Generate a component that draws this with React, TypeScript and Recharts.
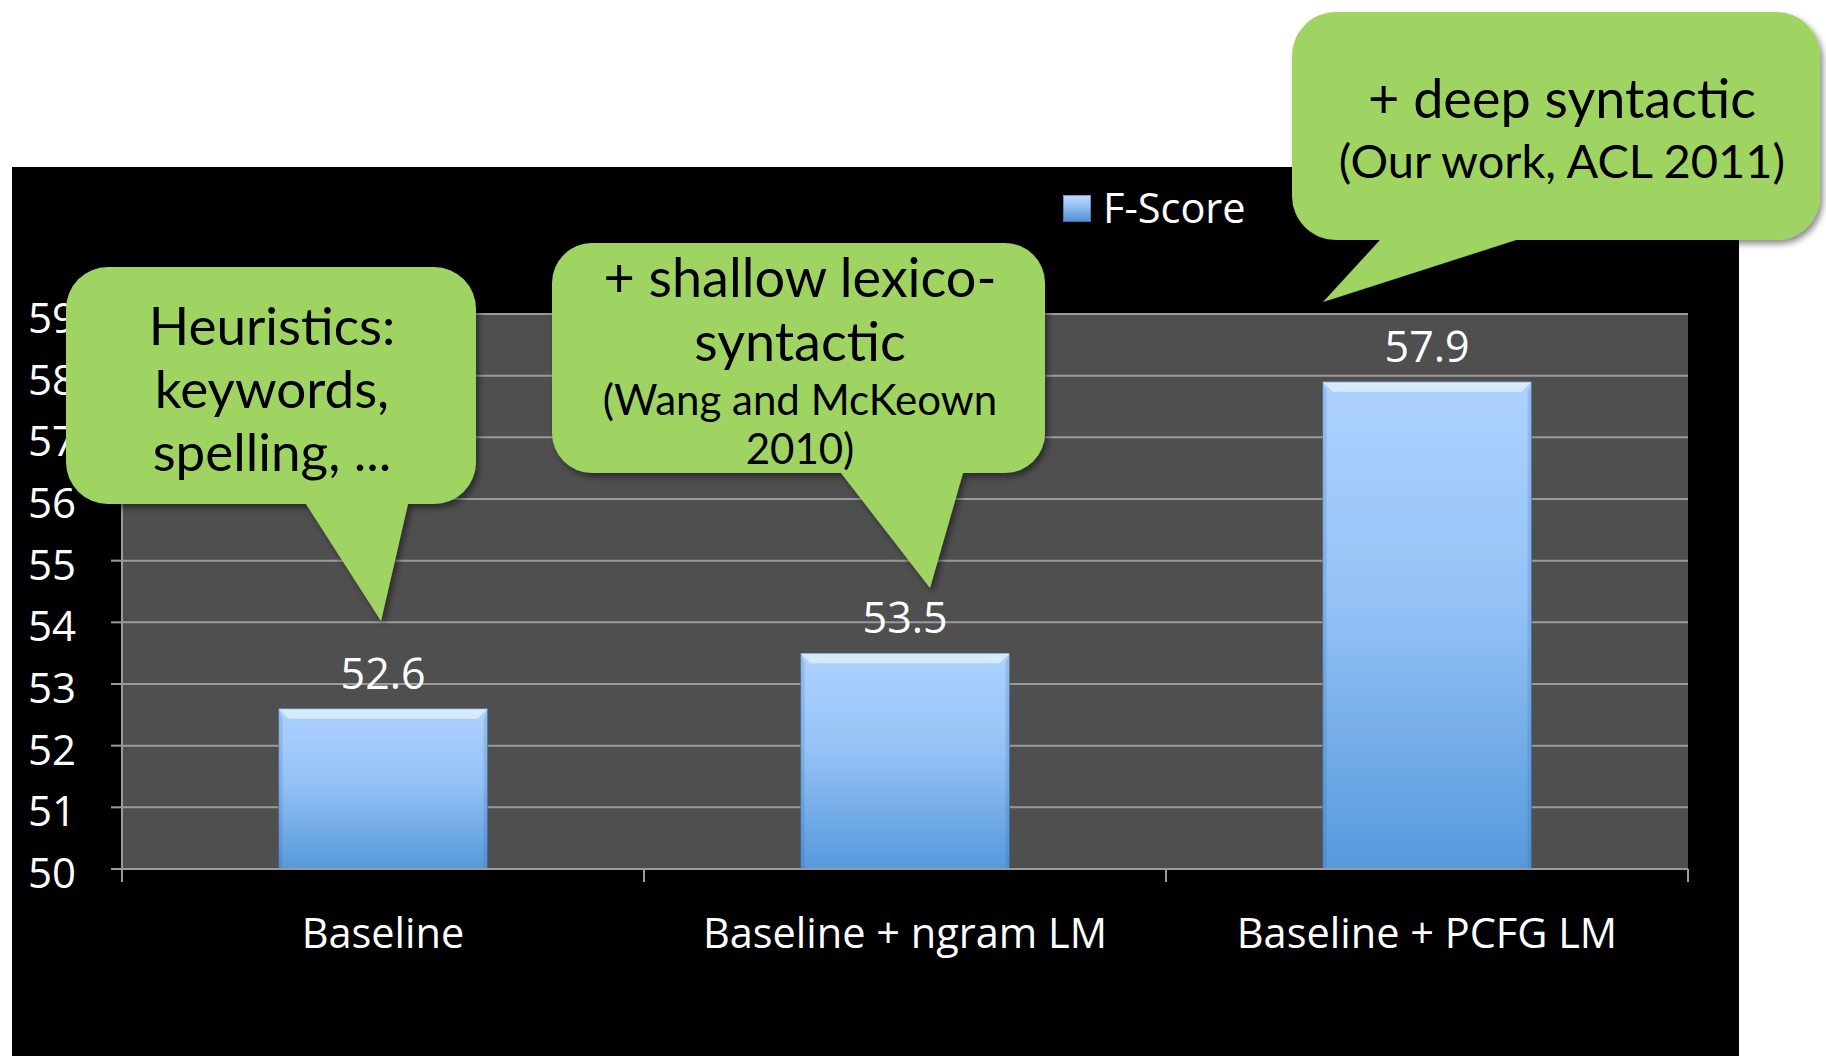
import React from 'react'
import { BarChart, Bar, XAxis, YAxis, CartesianGrid, Legend, LabelList } from 'recharts'

const methods = ['Baseline', 'Baseline + ngram LM', 'Baseline + PCFG LM']
const fScores = [52.6, 53.5, 57.9]
const yTicks = [50, 51, 52, 53, 54, 55, 56, 57, 58, 59]
const seriesName = 'F-Score'

const heuristicsNote = ['Heuristics:', 'keywords,', 'spelling, ...']
const shallowNote = ['+ shallow lexico-', 'syntactic']
const shallowCite = ['(Wang and McKeown', '2010)']
const deepNote = ['+ deep syntactic', '(Our work, ACL 2011)']

const data = methods.map((method, i) => ({ method, fscore: fScores[i] }))

const W = 1826
const H = 1056
const AXIS_FONT = '"Open Sans", "Noto Sans", sans-serif'
const NOTE_FONT = 'Lato, "Open Sans", sans-serif'
const GRID = '#9a9a9a'

function BeveledBar(props: any) {
  const { x, y, width, height } = props
  if (!height || height <= 0) return null
  const b = 10
  return (
    <g>
      <rect x={x} y={y} width={width} height={height} fill="url(#barFill)" />
      <polygon
        points={`${x},${y} ${x + width},${y} ${x + width - b},${y + b} ${x + b},${y + b}`}
        fill="#dcedff"
        opacity={0.9}
      />
      <polygon
        points={`${x},${y} ${x + b * 0.4},${y + b} ${x + b * 0.4},${y + height} ${x},${y + height}`}
        fill="#2d5f96"
        opacity={0.18}
      />
      <polygon
        points={`${x + width},${y} ${x + width - b * 0.4},${y + b} ${x + width - b * 0.4},${y + height} ${x + width},${y + height}`}
        fill="#2d5f96"
        opacity={0.18}
      />
      <rect x={x} y={y} width={width} height={height} fill="none" stroke="#34587f" strokeOpacity={0.5} />
    </g>
  )
}

function CategoryTick(props: any) {
  const { x, y, payload, index, visibleTicksCount } = props
  const half = payload?.offset ?? 0
  const last = index === visibleTicksCount - 1
  return (
    <g>
      <line x1={x - half} y1={y} x2={x - half} y2={y + 13} stroke={GRID} strokeWidth={2} />
      {last && <line x1={x + half} y1={y} x2={x + half} y2={y + 13} stroke={GRID} strokeWidth={2} />}
      <text x={x} y={y + 79} textAnchor="middle" fill="#fff" fontSize={41.5} fontFamily={AXIS_FONT}>
        {payload.value}
      </text>
    </g>
  )
}

function LegendBox() {
  return (
    <div style={{ display: 'flex', alignItems: 'center', height: 40 }}>
      <span
        style={{
          width: 28,
          height: 27,
          background: 'linear-gradient(180deg, #c3deff 0%, #8fbdf2 45%, #4f8fd3 100%)',
          boxShadow: 'inset 0 0 0 1px rgba(40,80,130,0.5)',
        }}
      />
      <span
        style={{ marginLeft: 12, color: '#fff', fontSize: 41.5, lineHeight: 1, fontFamily: AXIS_FONT }}
      >
        {seriesName}
      </span>
    </div>
  )
}

type Box = { x0: number; y0: number; x1: number; y1: number; r: number }
type Pointer = { left: number; right: number; tipX: number; tipY: number }

function calloutPath(b: Box, p: Pointer) {
  const { x0, y0, x1, y1, r } = b
  return [
    `M${x0 + r},${y0}`,
    `H${x1 - r}`,
    `A${r},${r} 0 0 1 ${x1},${y0 + r}`,
    `V${y1 - r}`,
    `A${r},${r} 0 0 1 ${x1 - r},${y1}`,
    `H${p.right}`,
    `L${p.tipX},${p.tipY}`,
    `L${p.left},${y1}`,
    `H${x0 + r}`,
    `A${r},${r} 0 0 1 ${x0},${y1 - r}`,
    `V${y0 + r}`,
    `A${r},${r} 0 0 1 ${x0 + r},${y0}`,
    'Z',
  ].join(' ')
}

function Callouts() {
  const green = '#a0d462'
  return (
    <svg
      width={W}
      height={H}
      style={{ position: 'absolute', left: 0, top: 0, pointerEvents: 'none' }}
    >
      <defs>
        <filter id="noteShadow" x="-10%" y="-10%" width="130%" height="130%">
          <feDropShadow dx="3" dy="4" stdDeviation="3" floodColor="#000" floodOpacity="0.45" />
        </filter>
      </defs>
      <g filter="url(#noteShadow)" fill={green}>
        <path d={calloutPath({ x0: 66, y0: 267, x1: 476, y1: 504, r: 42 }, { left: 306, right: 408, tipX: 381, tipY: 621 })} />
        <path d={calloutPath({ x0: 552, y0: 243, x1: 1045, y1: 473, r: 40 }, { left: 841, right: 963, tipX: 930, tipY: 588 })} />
        <path d={calloutPath({ x0: 1292, y0: 12, x1: 1820, y1: 240, r: 44 }, { left: 1380, right: 1516, tipX: 1323, tipY: 302 })} />
      </g>
      <g fill="#000" fontFamily={NOTE_FONT} textAnchor="middle">
        {heuristicsNote.map((t, i) => (
          <text key={t} x={272} y={345 + i * 63} fontSize={53}>
            {t}
          </text>
        ))}
        {shallowNote.map((t, i) => (
          <text key={t} x={800} y={297 + i * 64} fontSize={54}>
            {t}
          </text>
        ))}
        {shallowCite.map((t, i) => (
          <text key={t} x={800} y={415 + i * 49} fontSize={42}>
            {t}
          </text>
        ))}
        <text x={1562} y={118} fontSize={54}>
          {deepNote[0]}
        </text>
        <text x={1562} y={178} fontSize={47}>
          {deepNote[1]}
        </text>
      </g>
    </svg>
  )
}

export default function App() {
  return (
    <div
      style={{
        position: 'absolute',
        left: 0,
        top: 0,
        width: W,
        height: H,
        overflow: 'hidden',
        background: '#fff',
      }}
    >
      {/* black slide panel behind the chart */}
      <div style={{ position: 'absolute', left: 12, top: 167, width: 1727, height: H - 167, background: '#000' }} />
      <div style={{ position: 'absolute', left: 0, top: 0 }}>
        <BarChart
          width={W}
          height={H}
          data={data}
          margin={{ top: 314, right: 138, bottom: 87, left: 22 }}
          barCategoryGap="30%"
        >
          <defs>
            <linearGradient id="barFill" x1="0" y1="0" x2="0" y2="1">
              <stop offset="0%" stopColor="#aed2ff" />
              <stop offset="45%" stopColor="#94c2f6" />
              <stop offset="100%" stopColor="#5799dc" />
            </linearGradient>
          </defs>
          <CartesianGrid vertical={false} stroke={GRID} strokeWidth={2} fill="#4f4f4f" fillOpacity={1} />
          <XAxis
            dataKey="method"
            height={100}
            tickLine={false}
            tickSize={0}
            tickMargin={0}
            axisLine={{ stroke: GRID, strokeWidth: 2 }}
            tick={<CategoryTick />}
            interval={0}
          />
          <YAxis
            width={100}
            domain={[50, 59]}
            ticks={yTicks}
            allowDataOverflow
            tickSize={11}
            tickMargin={35}
            tickLine={{ stroke: GRID, strokeWidth: 2 }}
            axisLine={{ stroke: GRID, strokeWidth: 2 }}
            tick={{ fill: '#fff', fontSize: 42, fontFamily: AXIS_FONT, dy: 4 }}
          />
          <Legend
            layout="horizontal"
            verticalAlign="middle"
            align="center"
            wrapperStyle={{ left: 1063, top: 188, width: 260 }}
            content={() => <LegendBox />}
          />
          <Bar dataKey="fscore" name={seriesName} shape={<BeveledBar />} isAnimationActive={false}>
            <LabelList
              dataKey="fscore"
              position="top"
              offset={20}
              fill="#fff"
              fontSize={43}
              fontFamily={AXIS_FONT}
            />
          </Bar>
        </BarChart>
      </div>
      <Callouts />
    </div>
  )
}
